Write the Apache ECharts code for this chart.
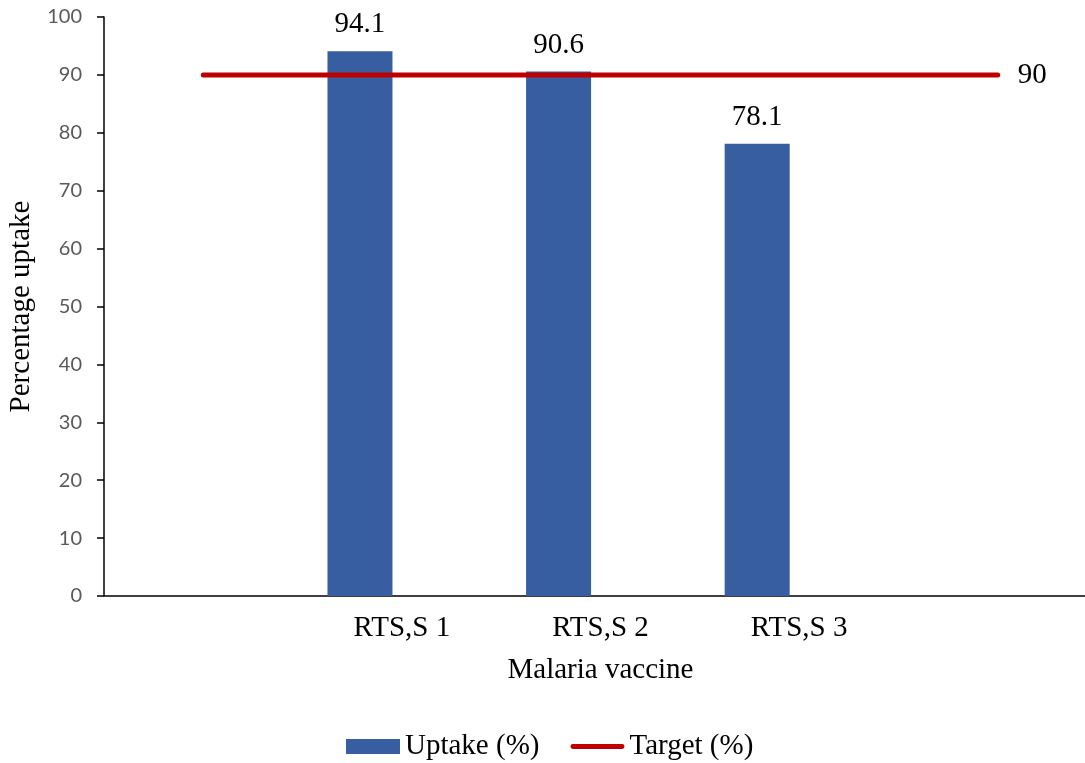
<!DOCTYPE html>
<html>
<head>
<meta charset="utf-8">
<script src="https://cdn.jsdelivr.net/npm/echarts@6/dist/echarts.min.js"></script>
<style>
  html, body { margin: 0; padding: 0; background: #fff; }
  #chart { width: 1085px; height: 763px; }
</style>
</head>
<body>
<div id="chart"></div>
<script>
// Malaria vaccine uptake by dose, against the 90% target
const categories = ['', 'RTS,S 1', 'RTS,S 2', 'RTS,S 3', ''];
const uptake = [null, 94.1, 90.6, 78.1, null];
const target = [90, 90, 90, 90, 90];
const yTicks = { min: 0, max: 100, interval: 10 };

const serif = '"Liberation Serif", "Times New Roman", serif';
const chart = echarts.init(document.getElementById('chart'));

chart.setOption({
  animation: false,
  backgroundColor: '#ffffff',
  grid: {
    left: 104, width: 993, top: 17, height: 579,
    containLabel: false,
    outerBoundsMode: 'none'
  },
  legend: {
    data: [
      { name: 'Uptake (%)', icon: 'rect' },
      { name: 'Target (%)', icon: 'path://M2.5,0 H53.5 A2.5,2.5 0 0 1 53.5,5 H2.5 A2.5,2.5 0 0 1 2.5,0 Z' }
    ],
    left: 341,
    top: 727,
    itemWidth: 54,
    itemHeight: 15,
    itemGap: 31,
    textStyle: { fontFamily: serif, fontSize: 29, color: '#000' }
  },
  xAxis: {
    type: 'category',
    data: categories,
    name: 'Malaria vaccine',
    nameLocation: 'middle',
    nameGap: 60,
    nameTextStyle: { fontFamily: serif, fontSize: 29, color: '#000' },
    axisLine: { lineStyle: { color: '#000', width: 1.5 } },
    axisTick: { show: false },
    axisLabel: { fontFamily: serif, fontSize: 29, color: '#000', margin: 18, interval: 0 },
    splitLine: { show: false }
  },
  yAxis: {
    type: 'value',
    min: yTicks.min,
    max: yTicks.max,
    interval: yTicks.interval,
    name: 'Percentage uptake',
    nameLocation: 'middle',
    nameGap: 68,
    nameTextStyle: { fontFamily: serif, fontSize: 29, color: '#000' },
    axisLine: { show: true, lineStyle: { color: '#000', width: 1.5 } },
    axisTick: { show: true, length: 7, lineStyle: { color: '#000', width: 1.5 } },
    axisLabel: { fontFamily: 'Lato, "Open Sans", sans-serif', fontSize: 20, color: '#595959', margin: 22 },
    splitLine: { show: false }
  },
  series: [
    {
      name: 'Uptake (%)',
      type: 'bar',
      data: uptake,
      barWidth: 65,
      barGap: '29%',
      itemStyle: { color: '#375EA1' },
      label: {
        show: true,
        position: 'top',
        distance: 12,
        fontFamily: serif,
        fontSize: 29,
        color: '#000'
      }
    },
    {
      // empty companion slot, keeps each bar left of its category centre
      name: 'slot',
      type: 'bar',
      data: [null, null, null, null, null],
      barWidth: 65,
      barGap: '29%'
    },
    {
      name: 'Target (%)',
      type: 'line',
      data: target,
      symbol: 'none',
      lineStyle: { color: '#C00000', width: 5, cap: 'round' },
      itemStyle: { color: '#C00000' },
      endLabel: {
        show: true,
        formatter: p => p.value,
        distance: 20,
        fontFamily: serif,
        fontSize: 29,
        color: '#000'
      },
      z: 5
    }
  ]
});
</script>
</body>
</html>
